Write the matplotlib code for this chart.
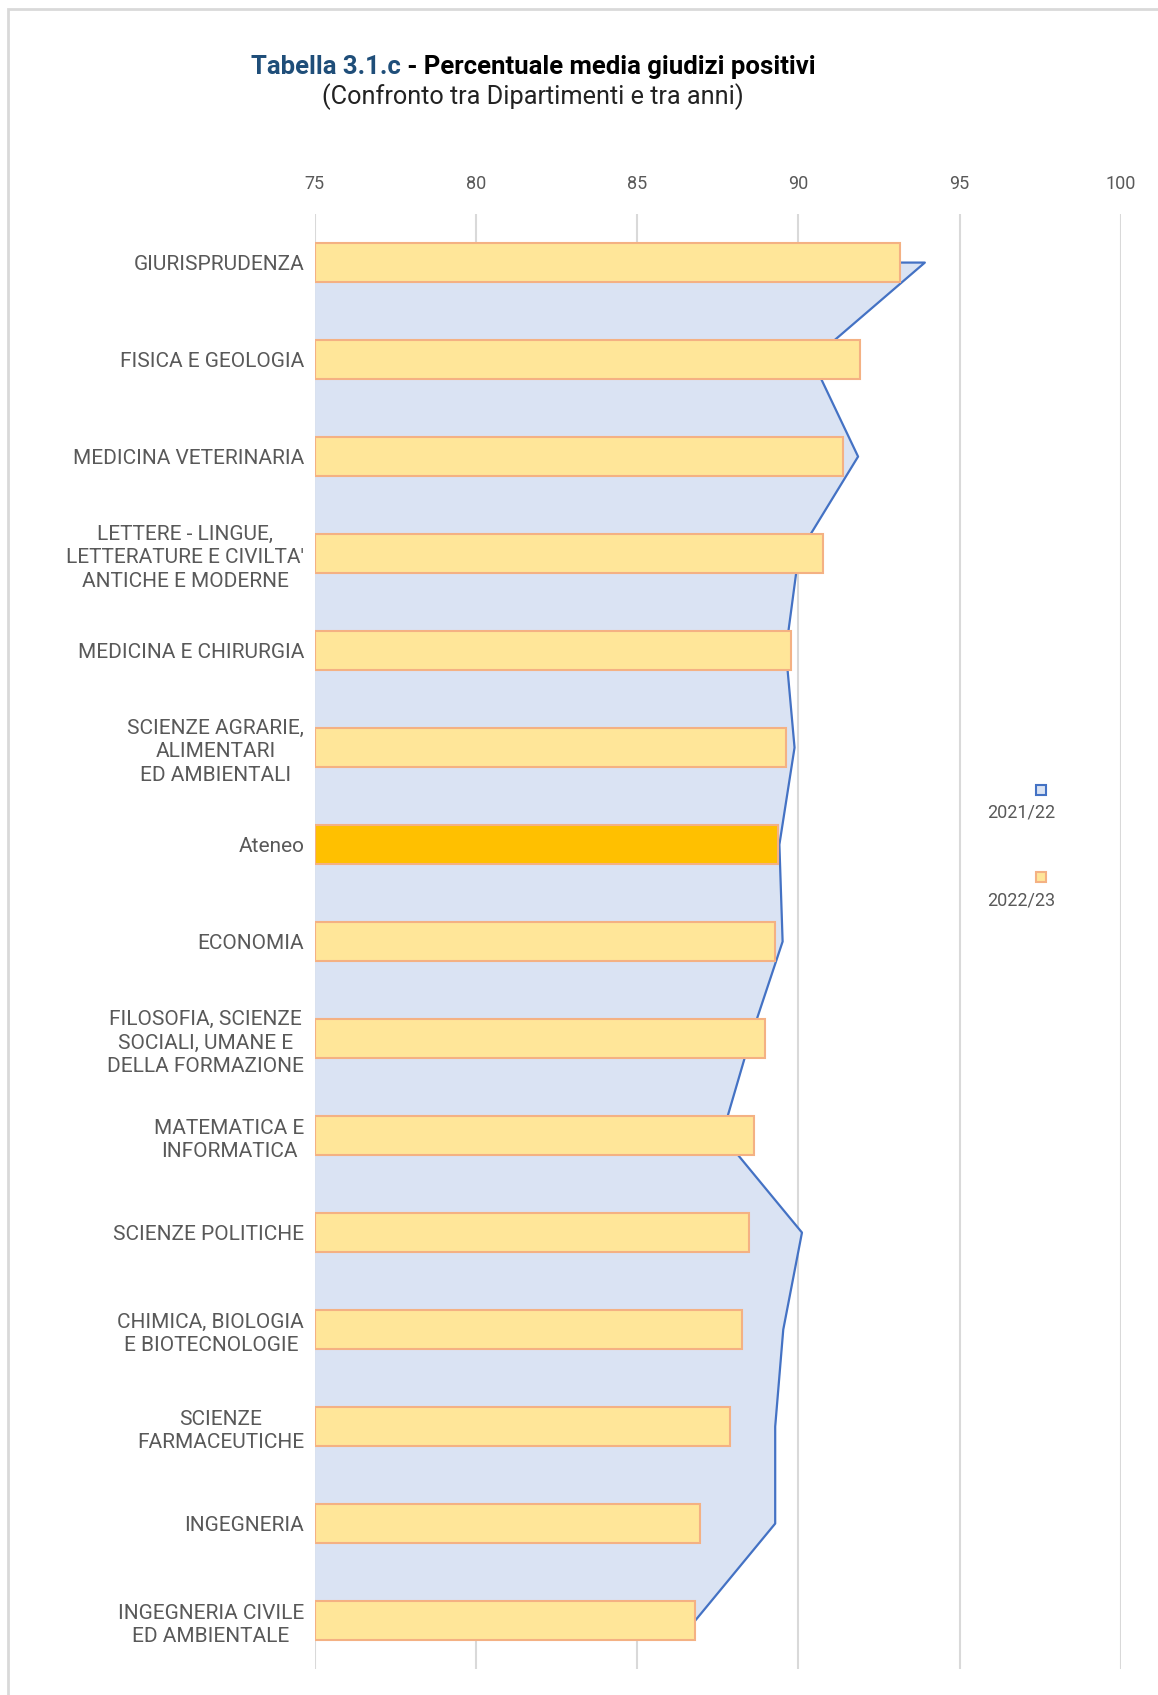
import matplotlib
matplotlib.use("Agg")
import matplotlib.pyplot as plt
import numpy as np
from matplotlib.patches import Rectangle

categories = [
    "GIURISPRUDENZA",
    "FISICA E GEOLOGIA",
    "MEDICINA VETERINARIA",
    "LETTERE - LINGUE,\nLETTERATURE E CIVILTA'\nANTICHE E MODERNE",
    "MEDICINA E CHIRURGIA",
    "SCIENZE AGRARIE,\nALIMENTARI\nED AMBIENTALI",
    "Ateneo",
    "ECONOMIA",
    "FILOSOFIA, SCIENZE\nSOCIALI, UMANE E\nDELLA FORMAZIONE",
    "MATEMATICA E\nINFORMATICA",
    "SCIENZE POLITICHE",
    "CHIMICA, BIOLOGIA\nE BIOTECNOLOGIE",
    "SCIENZE\nFARMACEUTICHE",
    "INGEGNERIA",
    "INGEGNERIA CIVILE\nED AMBIENTALE",
]
val_2022_23 = [93.16, 91.92, 91.39, 90.75, 89.78, 89.61, 89.38, 89.28,
               88.97, 88.61, 88.47, 88.24, 87.87, 86.96, 86.80]
val_2021_22 = [93.92, 90.42, 91.85, 90.01, 89.61, 89.88, 89.41, 89.51,
               88.51, 87.63, 90.11, 89.53, 89.28, 89.28, 86.80]
xticks = [75, 80, 85, 90, 95, 100]
series_names = ["2021/22", "2022/23"]

FONT = ["Roboto", "DejaVu Sans"]
plt.rcParams['font.family'] = FONT

fig = plt.figure(figsize=(11.58, 16.95), dpi=100)
ax = fig.add_axes([0.2717, 0.0153, 0.968 - 0.2717, 0.8737 - 0.0153])

y = np.arange(len(categories))
base = xticks[0]

# area (2021/22)
ax.fill_betweenx(y, base, val_2021_22, color="#DAE3F3", zorder=1, linewidth=0)
ax.plot([base] + val_2021_22, np.concatenate([[y[0]], y]), color="#4472C4",
        lw=1.6, zorder=2)

# bars (2022/23)
colors = ["#FFC000" if c == "Ateneo" else "#FFE699" for c in categories]
ax.barh(y, np.array(val_2022_23) - base, left=base, height=0.4, color=colors,
        edgecolor="#F4B183", linewidth=1.5, zorder=3)

ax.set_xlim(75, 100)
ax.set_ylim(len(categories) - 0.5, -0.5)
ax.set_xticks(xticks)
ax.xaxis.tick_top()
ax.tick_params(axis="x", length=0, pad=15, labelsize=13, labelcolor="#595959")
ax.set_yticks(y)
ax.set_yticklabels(categories, fontsize=15, color="#595959",
                   multialignment="center", linespacing=1.32)
ax.tick_params(axis="y", length=0, pad=7.5)
for s in ax.spines.values():
    s.set_visible(False)
ax.grid(axis="x", color="#D9D9D9", lw=1.5, zorder=0)
ax.set_axisbelow(True)

# title
TY = 0.9605
TS = 18.5
full = fig.text(0.4605, TY, "Tabella 3.1.c - Percentuale media giudizi positivi",
                fontsize=TS, fontweight="bold", ha="center", va="center", alpha=0)
fig.canvas.draw()
bb = full.get_window_extent()
x0 = bb.x0 / fig.bbox.width
t1 = fig.text(x0, TY, "Tabella 3.1.c", color="#1F4E79", fontsize=TS,
              fontweight="bold", ha="left", va="center")
fig.canvas.draw()
bb1 = t1.get_window_extent()
fig.text(bb1.x1 / fig.bbox.width, TY, " - Percentuale media giudizi positivi",
         color="black", fontsize=TS, fontweight="bold", ha="left", va="center")
fig.text(0.4605, 0.9432, "(Confronto tra Dipartimenti e tra anni)", fontsize=18.2,
         color="#222222", ha="center", va="center")

# legend (manual)
leg_items = [(series_names[0], "#DAE3F3", "#4472C4", 0.5344, 0.5204),
             (series_names[1], "#FFE699", "#F4B183", 0.4828, 0.4688)]
for name, fc, ec, ym, yt in leg_items:
    fig.patches.append(Rectangle((0.8945, ym - 0.0033), 0.0085, 0.0058,
                                 transform=fig.transFigure, facecolor=fc,
                                 edgecolor=ec, lw=1.5))
    fig.text(0.8815, yt, name, fontsize=13, color="#595959", ha="center",
             va="center")

# outer frame
fig.patches.append(Rectangle((0.0065, -0.1), 1.2, 1.0947,
                             transform=fig.transFigure, fill=False,
                             edgecolor="#D9D9D9", lw=2))

fig.savefig("out.png", dpi=100)
